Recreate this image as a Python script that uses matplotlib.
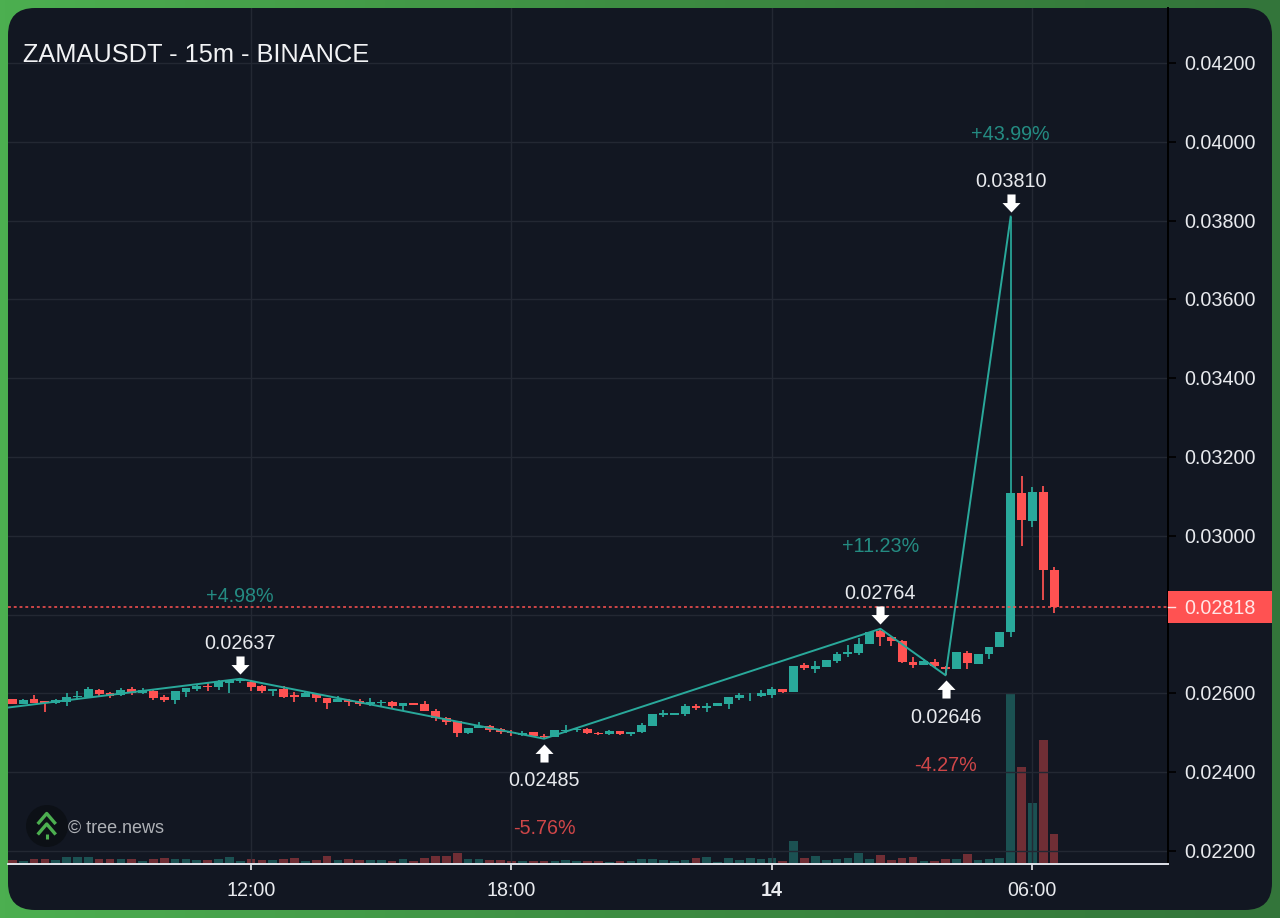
import numpy as np
import matplotlib
matplotlib.use('Agg')
import matplotlib.pyplot as plt
from matplotlib.colors import LinearSegmentedColormap
from matplotlib.patches import FancyBboxPatch, Circle, Rectangle
from matplotlib.path import Path
from matplotlib.transforms import ScaledTranslation

plt.rcParams['font.family'] = ['Liberation Sans', 'DejaVu Sans']

# 15m bars, bar 0 is 12:00. prices are in 1e-5 USDT
bars = list(range(-22, 75))

opens = [2585, 2574, 2586, 2580, 2575, 2578, 2590, 2590, 2609, 2600, 2595, 2611, 2602, 2607, 2592, 2584,
         2603, 2611, 2619, 2616, 2627, 2631, 2630, 2619, 2606, 2612, 2595, 2590, 2599, 2589, 2577, 2584,
         2581, 2574, 2575, 2578, 2567, 2575, 2572, 2556, 2538, 2529, 2499, 2512, 2517, 2510, 2503, 2495,
         2501, 2492, 2490, 2505, 2506, 2509, 2500, 2496, 2505, 2496, 2501, 2517, 2546, 2546, 2548, 2569,
         2563, 2567, 2573, 2589, 2595, 2594, 2596, 2610, 2604, 2672, 2663, 2666, 2683, 2700, 2703, 2726,
         2758, 2742, 2733, 2680, 2673, 2679, 2667, 2662, 2703, 2675, 2700, 2717, 2756, 3108, 3038, 3110, 2913]
highs = [2586, 2585, 2595, 2580, 2587, 2600, 2605, 2615, 2612, 2603, 2614, 2617, 2613, 2611, 2595, 2605,
         2614, 2622, 2627, 2633, 2634, 2637, 2633, 2622, 2611, 2620, 2603, 2605, 2600, 2589, 2594, 2586,
         2585, 2588, 2584, 2580, 2575, 2575, 2580, 2560, 2539, 2531, 2513, 2527, 2520, 2512, 2506, 2504,
         2502, 2497, 2506, 2520, 2513, 2512, 2501, 2506, 2505, 2503, 2524, 2548, 2558, 2551, 2572, 2572,
         2575, 2575, 2591, 2600, 2600, 2609, 2616, 2611, 2670, 2676, 2683, 2686, 2704, 2722, 2740, 2756,
         2764, 2744, 2735, 2692, 2688, 2687, 2670, 2704, 2707, 2701, 2717, 2756, 3810, 3152, 3123, 3127, 2920]
lows = [2573, 2574, 2576, 2554, 2572, 2569, 2582, 2589, 2594, 2589, 2594, 2595, 2599, 2584, 2577, 2574,
        2592, 2607, 2605, 2608, 2602, 2626, 2606, 2600, 2594, 2589, 2578, 2590, 2579, 2560, 2577, 2567,
        2567, 2567, 2568, 2564, 2556, 2570, 2556, 2531, 2519, 2489, 2497, 2511, 2502, 2496, 2493, 2493,
        2489, 2485, 2490, 2499, 2501, 2496, 2495, 2495, 2495, 2493, 2500, 2517, 2541, 2545, 2543, 2558,
        2554, 2567, 2561, 2584, 2580, 2591, 2589, 2600, 2604, 2660, 2653, 2666, 2678, 2692, 2698, 2726,
        2720, 2720, 2678, 2665, 2673, 2665, 2646, 2662, 2661, 2675, 2687, 2717, 2744, 2974, 3022, 2836, 2803]
closes = [2573, 2584, 2576, 2576, 2583, 2591, 2594, 2610, 2599, 2594, 2609, 2600, 2608, 2588, 2582, 2605,
          2614, 2619, 2616, 2630, 2633, 2633, 2617, 2605, 2611, 2592, 2591, 2600, 2588, 2575, 2587, 2579,
          2572, 2578, 2577, 2567, 2575, 2570, 2556, 2537, 2527, 2499, 2513, 2518, 2506, 2501, 2500, 2499,
          2491, 2489, 2506, 2507, 2509, 2500, 2496, 2504, 2496, 2501, 2519, 2548, 2550, 2550, 2569, 2562,
          2567, 2575, 2591, 2597, 2597, 2601, 2611, 2604, 2670, 2665, 2669, 2686, 2699, 2704, 2726, 2755,
          2742, 2732, 2679, 2671, 2682, 2669, 2663, 2704, 2676, 2701, 2717, 2756, 3108, 3040, 3110, 2912, 2818]
volumes = [4, 2.7, 5.3, 5.3, 4.3, 7.3, 7.3, 7.3, 5.3, 4.7, 4.7, 4.7, 2.7, 4.7, 6.3, 5.3,
           5, 4.3, 3.7, 5, 7, 2.7, 5.3, 4, 3.7, 4.7, 6.3, 2.7, 4, 8.3, 3.7, 4.7,
           4, 3.7, 3.7, 3, 4.7, 3, 6.3, 7.7, 7.7, 11.3, 4.7, 4.7, 4, 4, 3, 3,
           3, 3, 2.7, 4, 3, 2.7, 2.7, 2.3, 2.7, 2.7, 5.3, 5, 3.7, 2.7, 3.7, 5.7,
           6.7, 2.3, 5.7, 3.7, 5.7, 4.7, 5.7, 2.7, 23, 5.7, 7.7, 4, 4.7, 5.7, 11, 5,
           8.7, 4, 5.7, 6.7, 3, 3, 5, 5.3, 9.7, 4, 5.3, 6, 171, 97.3, 61.3, 124.3, 29.7]

# zigzag pivots, first one is off the left edge
zig_bars = [-23, -1, 27, 58, 64, 70]
zig_prices = [0.02562, 0.02637, 0.02485, 0.02764, 0.02646, 0.03810]

pivot_bars = [-1, 27, 58, 64, 70]
pivot_prices = [0.02637, 0.02485, 0.02764, 0.02646, 0.03810]
pivot_labels = ['0.02637', '0.02485', '0.02764', '0.02646', '0.03810']
pivot_pcts = ['+4.98%', '-5.76%', '+11.23%', '-4.27%', '+43.99%']

last_price = 0.02818
price_ticks = [0.022, 0.024, 0.026, 0.028, 0.030, 0.032, 0.034, 0.036, 0.038, 0.040, 0.042]
price_labels = ['0.02200', '0.02400', '0.02600', '', '0.03000', '0.03200', '0.03400', '0.03600', '0.03800', '0.04000', '0.04200']
time_ticks = [0, 24, 48, 72]
time_labels = ['12:00', '18:00', '14', '06:00']

UP = '#29a99b'
DOWN = '#ff5252'
CARD = '#121722'
GRID = '#232833'
TEXT = '#e8eaee'

opens = np.array(opens) / 1e5
highs = np.array(highs) / 1e5
lows = np.array(lows) / 1e5
closes = np.array(closes) / 1e5
colors = [UP if c >= o else DOWN for o, c in zip(opens, closes)]

fig = plt.figure(figsize=(12.8, 9.18), dpi=100)

# background: green frame and the dark rounded card, in pixel coordinates
bg = fig.add_axes([0, 0, 1, 1])
frame = LinearSegmentedColormap.from_list('frame', ['#4caf50', '#3d8c42', '#33753a'])
bg.imshow(np.linspace(0, 1, 256).reshape(1, -1), cmap=frame, aspect='auto', extent=(0, 1280, 918, 0))
bg.set_xlim(0, 1280)
bg.set_ylim(918, 0)
bg.axis('off')
r = 27
bg.add_patch(FancyBboxPatch((8 + r, 8 + r), 1264 - 2 * r, 902 - 2 * r, boxstyle='round,pad=%d,rounding_size=%d' % (r, r),
                            facecolor=CARD, edgecolor='none'))
bg.text(23, 55.5, 'ZAMAUSDT - 15m - BINANCE', color='#f2f3f5', fontsize=18.3, va='center', ha='left')

# tree.news watermark
bg.add_patch(Circle((47, 826), 21, facecolor='#0c1016', edgecolor='none'))
bg.plot([37.7, 46.7, 55.7], [824, 813.5, 824], color='#4caf50', lw=2.4, solid_capstyle='butt')
bg.plot([37.7, 46.7, 55.7], [834.5, 824, 834.5], color='#4caf50', lw=2.4, solid_capstyle='butt')
bg.plot([46.7, 46.7], [834, 838.5], color='#4caf50', lw=2.2, solid_capstyle='butt')
bg.text(68, 828, '\u00a9 tree.news', color='#aeb1b6', fontsize=13, va='center', ha='left')

pos = [8 / 1280, 54 / 918, 1160 / 1280, 856 / 918]
xlim = (-22.4, 84.5)

# volume sits behind the candles, biggest bar takes 20% of the height
vol_ax = fig.add_axes(pos)
vol_ax.bar(bars, volumes, width=0.8, color=colors, alpha=0.4)
vol_ax.set_xlim(xlim)
vol_ax.set_ylim(0, max(volumes) / 0.2)
vol_ax.axis('off')

ax = fig.add_axes(pos)
ax.patch.set_visible(False)
ax.set_xlim(xlim)
ax.set_ylim(0.02167, 0.043395)
ax.set_axisbelow(True)
ax.grid(color=GRID, lw=1)

ax.vlines(bars, lows, highs, colors=colors, lw=1.25)
ax.bar(bars, np.abs(closes - opens), bottom=np.minimum(opens, closes), width=0.82, color=colors)
ax.plot(zig_bars, zig_prices, color=UP, lw=1.4)
ax.axhline(last_price, color=DOWN, lw=1.3, ls=(0, (1.6, 1.6)), alpha=0.85)

# arrows + labels at the zigzag pivots
down_arrow = Path([(-0.45, 1), (0.45, 1), (0.45, 0.05), (1, 0.05), (0, -1), (-1, 0.05), (-0.45, 0.05), (-0.45, 1)])
up_arrow = Path([(-0.45, -1), (0.45, -1), (0.45, -0.05), (1, -0.05), (0, 1), (-1, -0.05), (-0.45, -0.05), (-0.45, -1)])
for b, p, lab, pct in zip(pivot_bars, pivot_prices, pivot_labels, pivot_pcts):
    is_high = pct.startswith('+')
    sign = 1 if is_high else -1
    shift = ScaledTranslation(0, sign * 14 / 100, fig.dpi_scale_trans)
    ax.plot([b], [p], marker=down_arrow if is_high else up_arrow, ms=13, color='white', mew=0,
            transform=ax.transData + shift, clip_on=False)
    ax.annotate(lab, (b, p), xytext=(0, 35 if is_high else -42), textcoords='offset pixels', color=TEXT,
                fontsize=14.2, ha='center', va='center')
    ax.annotate(pct, (b, p), xytext=(0, 82 if is_high else -90), textcoords='offset pixels', color=UP if is_high else DOWN,
                alpha=0.8, fontsize=14.2, ha='center', va='center')

ax.yaxis.tick_right()
ax.set_yticks(price_ticks)
ax.set_yticklabels(price_labels, va='center')
ax.set_xticks(time_ticks)
ax.set_xticklabels(time_labels)
ax.tick_params(axis='y', color='black', labelcolor='#e8eaee', labelsize=14.2, length=5.5, width=1.2, pad=6)
ax.tick_params(axis='x', color='#e8eaee', labelcolor='#e8eaee', labelsize=14.2, length=4, width=1.2, pad=8.5)
ax.get_xticklabels()[2].set_fontweight('bold')
# price labels sit a bit lower than matplotlib centers them
label_shift = ScaledTranslation(0, -1.5 / 100, fig.dpi_scale_trans)
for label in ax.get_yticklabels():
    label.set_transform(label.get_transform() + label_shift)

for side in ['left', 'top']:
    ax.spines[side].set_visible(False)
ax.spines['bottom'].set_color('#e0e3eb')
ax.spines['bottom'].set_linewidth(1.4)
ax.spines['right'].set_color('black')
ax.spines['right'].set_linewidth(1.4)

# last price tag on the axis
tag_h = 0.000406
trans = ax.get_yaxis_transform()
ax.add_patch(Rectangle((1.0, last_price - tag_h), 0.0897, 2 * tag_h, transform=trans, facecolor=DOWN,
                       edgecolor='none', clip_on=False, zorder=5))
ax.plot([1.0, 1.006], [last_price, last_price], transform=trans, color='#ffe0e0', lw=1, clip_on=False, zorder=6)
ax.text(1.0142, last_price - 0.00003, '0.02818', transform=trans, color='#ffe6e6', fontsize=14.2, ha='left', va='center', zorder=6)

fig.savefig('out.png', dpi=100)
